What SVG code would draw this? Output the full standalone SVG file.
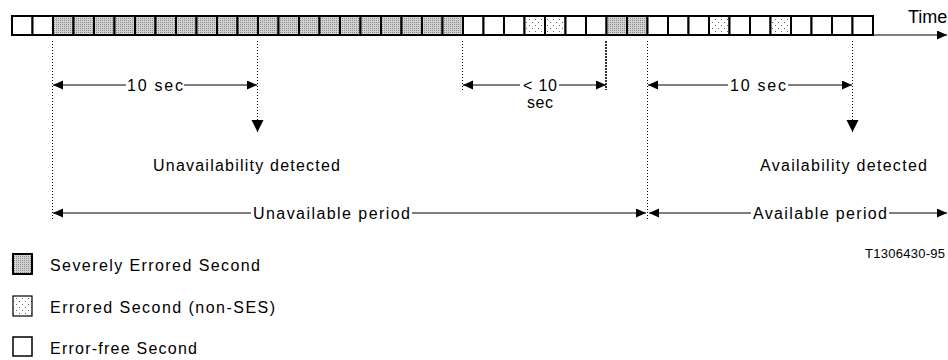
<svg xmlns="http://www.w3.org/2000/svg" width="948" height="360" viewBox="0 0 948 360">
<style>
  text { font-family: "Liberation Sans", Arial, sans-serif; font-size: 16px; fill: #000; }
  .cell { stroke: #000; stroke-width: 2; }
  .w { fill: #fff; }
  .s { fill: url(#pSES); }
  .e { fill: url(#pES); }
  .dot { stroke: #000; stroke-width: 1; stroke-dasharray: 1 2; fill: none; }
  .dot2 { stroke: #000; stroke-width: 1.6; stroke-dasharray: 2 1; fill: none; }
  .ln { stroke: #000; stroke-width: 1.2; fill: none; }
</style>
<defs>
  <pattern id="pSES" width="2" height="2" patternUnits="userSpaceOnUse">
    <rect width="2" height="2" fill="#d2d2d2"/>
    <rect width="1" height="1" fill="#8c8c8c"/>
  </pattern>
  <pattern id="pES" width="6" height="6" patternUnits="userSpaceOnUse">
    <rect width="6" height="6" fill="#fff"/>
    <rect x="1" y="1" width="1" height="1" fill="#666"/>
    <rect x="4" y="4" width="1" height="1" fill="#666"/>
  </pattern>
  <marker id="ah" markerUnits="userSpaceOnUse" markerWidth="11" markerHeight="10" refX="10" refY="4.5" orient="auto">
    <path d="M0,0 L10,4.5 L0,9 Z" fill="#000"/>
  </marker>
  <marker id="ahd" markerUnits="userSpaceOnUse" markerWidth="13" markerHeight="13" refX="12" refY="6" orient="auto">
    <path d="M0,0 L12,6 L0,12 Z" fill="#000"/>
  </marker>
</defs>
<rect width="948" height="360" fill="#fff"/>

<g id="strip">
  <rect class="cell w" x="12" y="16" width="20.5" height="19"/>
  <rect class="cell w" x="32.5" y="16" width="20.5" height="19"/>
  <rect class="cell s" x="53" y="16" width="20.5" height="19"/>
  <rect class="cell s" x="73.5" y="16" width="20.5" height="19"/>
  <rect class="cell s" x="94" y="16" width="20.5" height="19"/>
  <rect class="cell s" x="114.5" y="16" width="20.5" height="19"/>
  <rect class="cell s" x="135" y="16" width="20.5" height="19"/>
  <rect class="cell s" x="155.5" y="16" width="20.5" height="19"/>
  <rect class="cell s" x="176" y="16" width="20.5" height="19"/>
  <rect class="cell s" x="196.5" y="16" width="20.5" height="19"/>
  <rect class="cell s" x="217" y="16" width="20.5" height="19"/>
  <rect class="cell s" x="237.5" y="16" width="20.5" height="19"/>
  <rect class="cell s" x="258" y="16" width="20.5" height="19"/>
  <rect class="cell s" x="278.5" y="16" width="20.5" height="19"/>
  <rect class="cell s" x="299" y="16" width="20.5" height="19"/>
  <rect class="cell s" x="319.5" y="16" width="20.5" height="19"/>
  <rect class="cell s" x="340" y="16" width="20.5" height="19"/>
  <rect class="cell s" x="360.5" y="16" width="20.5" height="19"/>
  <rect class="cell s" x="381" y="16" width="20.5" height="19"/>
  <rect class="cell s" x="401.5" y="16" width="20.5" height="19"/>
  <rect class="cell s" x="422" y="16" width="20.5" height="19"/>
  <rect class="cell s" x="442.5" y="16" width="20.5" height="19"/>
  <rect class="cell w" x="463" y="16" width="20.5" height="19"/>
  <rect class="cell w" x="483.5" y="16" width="20.5" height="19"/>
  <rect class="cell w" x="504" y="16" width="20.5" height="19"/>
  <rect class="cell e" x="524.5" y="16" width="20.5" height="19"/>
  <rect class="cell e" x="545" y="16" width="20.5" height="19"/>
  <rect class="cell w" x="565.5" y="16" width="20.5" height="19"/>
  <rect class="cell w" x="586" y="16" width="20.5" height="19"/>
  <rect class="cell s" x="606.5" y="16" width="20.5" height="19"/>
  <rect class="cell s" x="627" y="16" width="20.5" height="19"/>
  <rect class="cell w" x="647.5" y="16" width="20.5" height="19"/>
  <rect class="cell w" x="668" y="16" width="20.5" height="19"/>
  <rect class="cell w" x="688.5" y="16" width="20.5" height="19"/>
  <rect class="cell e" x="709" y="16" width="20.5" height="19"/>
  <rect class="cell w" x="729.5" y="16" width="20.5" height="19"/>
  <rect class="cell w" x="750" y="16" width="20.5" height="19"/>
  <rect class="cell e" x="770.5" y="16" width="20.5" height="19"/>
  <rect class="cell w" x="791" y="16" width="20.5" height="19"/>
  <rect class="cell w" x="811.5" y="16" width="20.5" height="19"/>
  <rect class="cell w" x="832" y="16" width="20.5" height="19"/>
  <rect class="cell w" x="852.5" y="16" width="20.5" height="19"/>
</g>

<g id="time-label">
  <text x="908" y="23" style="font-size:18px">Time</text>
</g>

<g id="connectors">
  <path class="ln" d="M873,35 L947,35" marker-end="url(#ah)" stroke-width="2"/>
  <path class="dot" d="M52.5,41 V220"/>
  <path class="dot" d="M257.5,41 V132" marker-end="url(#ahd)"/>
  <path class="dot" d="M462.5,41 V90"/>
  <path class="dot2" d="M606,41 V90"/>
  <path class="dot" d="M647.5,41 V220"/>
  <path class="dot" d="M852.5,41 V132" marker-end="url(#ahd)"/>
  <path class="ln" d="M126,85 H53" marker-end="url(#ah)"/>
  <path class="ln" d="M184,85 H257" marker-end="url(#ah)"/>
  <path class="ln" d="M520,85 H463" marker-end="url(#ah)"/>
  <path class="ln" d="M559,85 H606" marker-end="url(#ah)"/>
  <path class="ln" d="M728,85 H648" marker-end="url(#ah)"/>
  <path class="ln" d="M788,85 H852" marker-end="url(#ah)"/>
  <path class="ln" d="M251,213 H53" marker-end="url(#ah)"/>
  <path class="ln" d="M412,213 H646" marker-end="url(#ah)"/>
  <path class="ln" d="M751,213 H649" marker-end="url(#ah)"/>
  <path class="ln" d="M889,213 H947" marker-end="url(#ah)"/>
</g>

<g id="labels">
  <text x="127" y="91" textLength="56">10 sec</text>
  <text x="523" y="91" textLength="34">&lt; 10</text>
  <text x="527" y="108" textLength="26">sec</text>
  <text x="730" y="91" textLength="56">10 sec</text>
  <text x="153" y="171" textLength="187">Unavailability detected</text>
  <text x="760" y="171" textLength="167">Availability detected</text>
  <text x="253" y="219" textLength="157">Unavailable period</text>
  <text x="753" y="219" textLength="134">Available period</text>
  <text x="865" y="258" textLength="80" style="font-size:13px">T1306430-95</text>
</g>

<g id="legend">
  <g id="legend-ses">
    <rect x="13" y="254" width="19" height="20" fill="url(#pSES)" stroke="#000" stroke-width="2"/>
    <text x="50" y="271" textLength="210">Severely Errored Second</text>
  </g>
  <g id="legend-es">
    <rect x="13" y="296" width="19" height="20" fill="url(#pES)" stroke="#000" stroke-width="1.2"/>
    <text x="50" y="313" textLength="225">Errored Second (non-SES)</text>
  </g>
  <g id="legend-ef">
    <rect x="13" y="337" width="19" height="19" fill="#fff" stroke="#000" stroke-width="1.5"/>
    <text x="50" y="354" textLength="147">Error-free Second</text>
  </g>
</g>
</svg>
